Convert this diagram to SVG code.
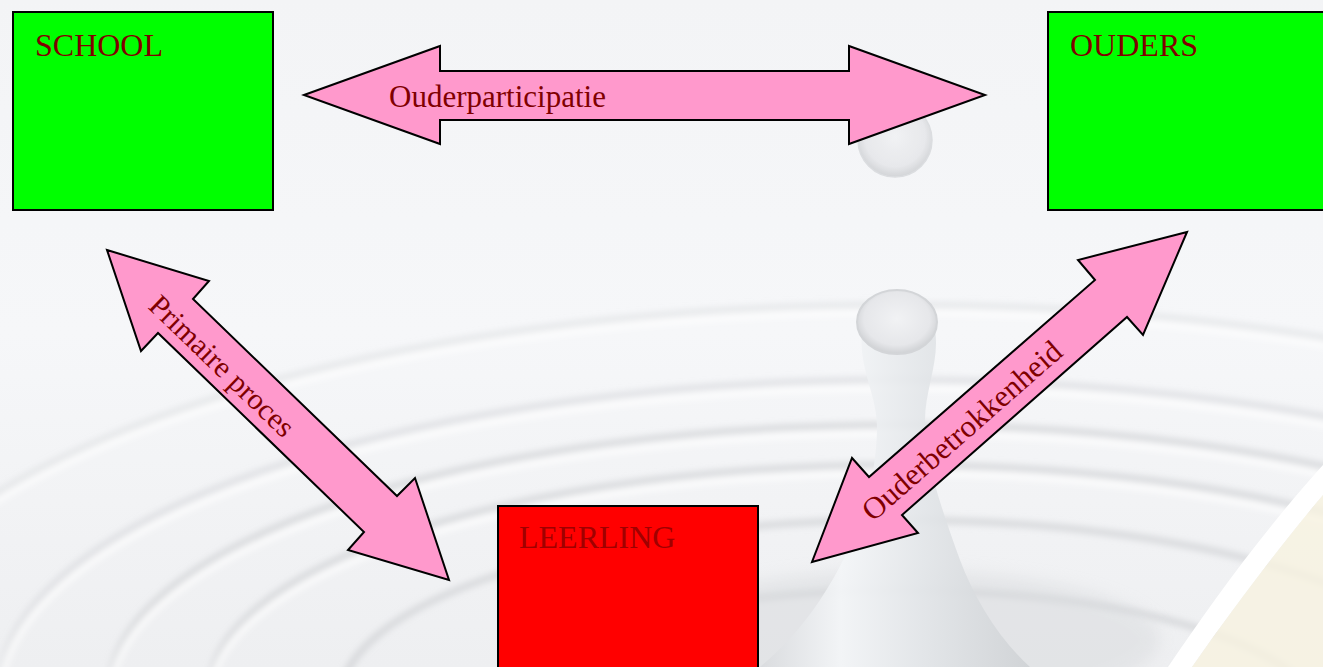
<svg xmlns="http://www.w3.org/2000/svg" width="1323" height="667" viewBox="0 0 1323 667">
<defs>
<linearGradient id="bg" x1="0" y1="0" x2="0" y2="1">
<stop offset="0" stop-color="#f3f4f6"/>
<stop offset="0.5" stop-color="#f6f7f9"/>
<stop offset="1" stop-color="#eeeff1"/>
</linearGradient>
<linearGradient id="col" x1="0" y1="0" x2="1" y2="0">
<stop offset="0" stop-color="#d9dbde"/>
<stop offset="0.3" stop-color="#f4f6f8"/>
<stop offset="0.6" stop-color="#e3e6e9"/>
<stop offset="1" stop-color="#cfd2d5"/>
</linearGradient>
<radialGradient id="drop" cx="0.5" cy="0.45" r="0.55">
<stop offset="0" stop-color="#f1f2f4"/>
<stop offset="0.75" stop-color="#e6e7ea"/>
<stop offset="1" stop-color="#cfd1d4"/>
</radialGradient>
<filter id="blur" x="-20%" y="-20%" width="140%" height="140%"><feGaussianBlur stdDeviation="3"/></filter>
<filter id="blur2" x="-20%" y="-20%" width="140%" height="140%"><feGaussianBlur stdDeviation="8"/></filter>
<style>
.box{stroke:#000;stroke-width:2}
.lbl{font-family:"Liberation Serif","Times New Roman",serif;font-size:32px;fill:#800000}
.arr{fill:#ff99cc;stroke:#000;stroke-width:2;stroke-linejoin:miter}
.alb{font-family:"Liberation Serif","Times New Roman",serif;font-size:30px;fill:#800000}
.rip{fill:none;stroke:#c4c6ca;stroke-width:7;opacity:0.55}
.hil{fill:none;stroke:#ffffff;stroke-width:6;opacity:0.8}
</style>
</defs>

<!-- background scene -->
<rect width="1323" height="667" fill="url(#bg)"/>
<g filter="url(#blur)">
<ellipse class="rip" cx="900" cy="690" rx="1050" ry="385" style="opacity:0.3"/>
<ellipse class="hil" cx="900" cy="697" rx="1050" ry="385"/>
<ellipse class="rip" cx="900" cy="690" rx="900" ry="310" style="opacity:0.4"/>
<ellipse class="hil" cx="900" cy="698" rx="900" ry="310"/>
<ellipse class="rip" cx="900" cy="690" rx="790" ry="265"/>
<ellipse class="hil" cx="900" cy="698" rx="790" ry="265"/>
<ellipse class="rip" cx="900" cy="690" rx="690" ry="225"/>
<ellipse class="hil" cx="900" cy="698" rx="690" ry="225"/>
<ellipse class="rip" cx="900" cy="700" rx="560" ry="180"/>
<ellipse class="rip" cx="900" cy="720" rx="420" ry="130"/>
</g>
<ellipse cx="900" cy="640" rx="260" ry="70" fill="#d8dadd" opacity="0.5" filter="url(#blur2)"/>
<path d="M862,330 C858,370 878,395 877,430 C876,480 860,540 820,600 C800,630 780,650 760,667 L1030,667 C1000,640 975,600 960,560 C940,505 925,460 925,420 C925,390 940,360 935,330 Z" fill="url(#col)" opacity="0.9"/>
<ellipse cx="897" cy="322" rx="40" ry="32" fill="url(#drop)" stroke="#d3d5d8" stroke-width="2"/>
<circle cx="895" cy="140" r="37" fill="url(#drop)" stroke="#d9dbde" stroke-width="1.5" opacity="0.9"/>
<path d="M1323,465 C1260,535 1210,605 1168,667 L1192,667 C1235,605 1285,540 1323,495 Z" fill="#ffffff"/>
<path d="M1323,495 C1285,540 1235,605 1192,667 L1323,667 Z" fill="#f8f2e0" opacity="0.8"/>

<!-- nodes -->
<g id="school">
<rect class="box" x="13" y="12" width="260" height="198" fill="#00ff00"/>
<text class="lbl" x="35" y="56">SCHOOL</text>
</g>
<g id="ouders">
<rect class="box" x="1048" y="12" width="290" height="198" fill="#00ff00"/>
<text class="lbl" x="1070" y="56">OUDERS</text>
</g>
<g id="leerling">
<rect class="box" x="498" y="506" width="260" height="180" fill="#ff0000"/>
<text class="lbl" x="519" y="548" style="fill:#a00000">LEERLING</text>
</g>

<!-- connectors -->
<g id="connectors">
<g id="arrow-ouderparticipatie">
<polygon class="arr" points="304,95 440,46 440,71 849,71 849,46 985,95 849,144 849,120 440,120 440,144"/>
<text class="alb" x="389" y="107" style="font-size:31px">Ouderparticipatie</text>
</g>
<g id="arrow-primaire">
<polygon class="arr" points="107,250 209,281 193,299 397,496 415,478 449,580 348,550 364,532 158,333 141,351"/>
<text class="alb" text-anchor="middle" transform="translate(222,366) rotate(44)" y="10">Primaire proces</text>
</g>
<g id="arrow-ouderbetrokkenheid">
<polygon class="arr" points="1187,232 1143,335 1127,317 902,515 918,533 812,562 852,458 869,477 1095,280 1078,260"/>
<text class="alb" text-anchor="middle" transform="translate(962,431) rotate(-41.3)" y="10" style="font-size:31px">Ouderbetrokkenheid</text>
</g>
</g>
</svg>
